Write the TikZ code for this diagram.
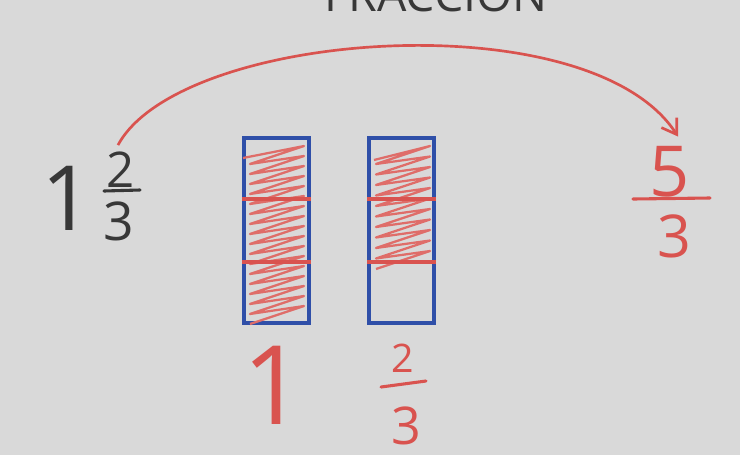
\documentclass[tikz,border=0pt]{standalone}
\usepackage{fontspec}
\setmainfont{Open Sans}
\usepackage{xcolor}
\definecolor{PaperGray}{HTML}{D9D9D9}
\definecolor{PenRed}{HTML}{D9534F}
\definecolor{PenBlue}{HTML}{2F4FA8}
\definecolor{PenBlack}{HTML}{383838}
\usetikzlibrary{arrows.meta,calc}
\newcommand{\penfont}[1]{\fontsize{#1}{#1}\selectfont}
\tikzset{
  digit/.style={inner sep=0pt, anchor=base},
  blackdigit/.style={digit, text=PenBlack},
  reddigit/.style={digit, text=PenRed},
  barbox/.style={
    draw=PenBlue,
    line width=2.6pt,
    minimum width=1.625cm,
    minimum height=4.625cm,
    inner sep=0pt
  },
  divider/.style={draw=PenRed, line width=2.4pt},
  hatch/.style={draw=PenRed!85, line width=1.6pt, line join=round},
  fracbar/.style={line width=2.2pt, line cap=round},
  arc arrow/.style={draw=PenRed, line width=1.9pt, -{Straight Barb[length=10pt, width=13pt]}}
}

\begin{document}
\begin{tikzpicture}[x=0.025cm, y=-0.025cm]
  \fill[PaperGray] (0,0) rectangle (740,455);
  \useasboundingbox (0,0) rectangle (740,455);

  % title, cut off by the top edge
  \begin{scope}
    \clip (0,0) rectangle (740,455);
    \node[blackdigit, font=\penfont{33pt}] (title) at (436,11) {FRACCIÓN};
  \end{scope}

  % mixed number
  \node[blackdigit, font=\penfont{64pt}] (one) at (67,230) {1};
  \node[blackdigit, font=\penfont{35pt}] (twoN) at (121,187) {2};
  \node[blackdigit, font=\penfont{38pt}] (threeD) at (119,240) {3};
  \draw[fracbar, PenBlack] (104,191) -- (140,190);

  % the two bars
  \node[barbox] (wholebar) at (276.5,230.5) {};
  \node[barbox] (partbar) at (401.5,230.5) {};

  \draw[hatch] (243,158) \foreach \k in {0,...,16} { -- (304,{146+10*\k}) -- (250,{164+10*\k}) };
  \draw[hatch] (374,160) \foreach \k in {0,...,10} { -- (430,{146+10.5*\k}) -- (376,{164+10.5*\k}) };

  \foreach \b in {wholebar,partbar}
    \foreach \f in {0.333,0.667}
      \draw[divider] ($(\b.north west)!\f!(\b.south west)$) -- ($(\b.north east)!\f!(\b.south east)$);

  % improper fraction
  \node[reddigit, font=\penfont{50pt}] (fiveR) at (670,196) {5};
  \draw[fracbar, PenRed] (633,199) -- (710,198);
  \node[reddigit, font=\penfont{42pt}] (threeR) at (674,257) {3};

  % labels under the bars
  \node[reddigit, font=\penfont{78pt}] (oneR) at (274,424) {1};
  \node[reddigit, font=\penfont{28pt}] (twoR) at (403,372) {2};
  \draw[fracbar, PenRed] (381,387) -- (426,381);
  \node[reddigit, font=\penfont{37pt}] (threeR2) at (406,444) {3};

  \draw[arc arrow] ($(twoN.north)+(-3,-6)$) .. controls (180,30) and (590,0) .. ($(fiveR.north)+(8,-9)$);
\end{tikzpicture}
\end{document}
